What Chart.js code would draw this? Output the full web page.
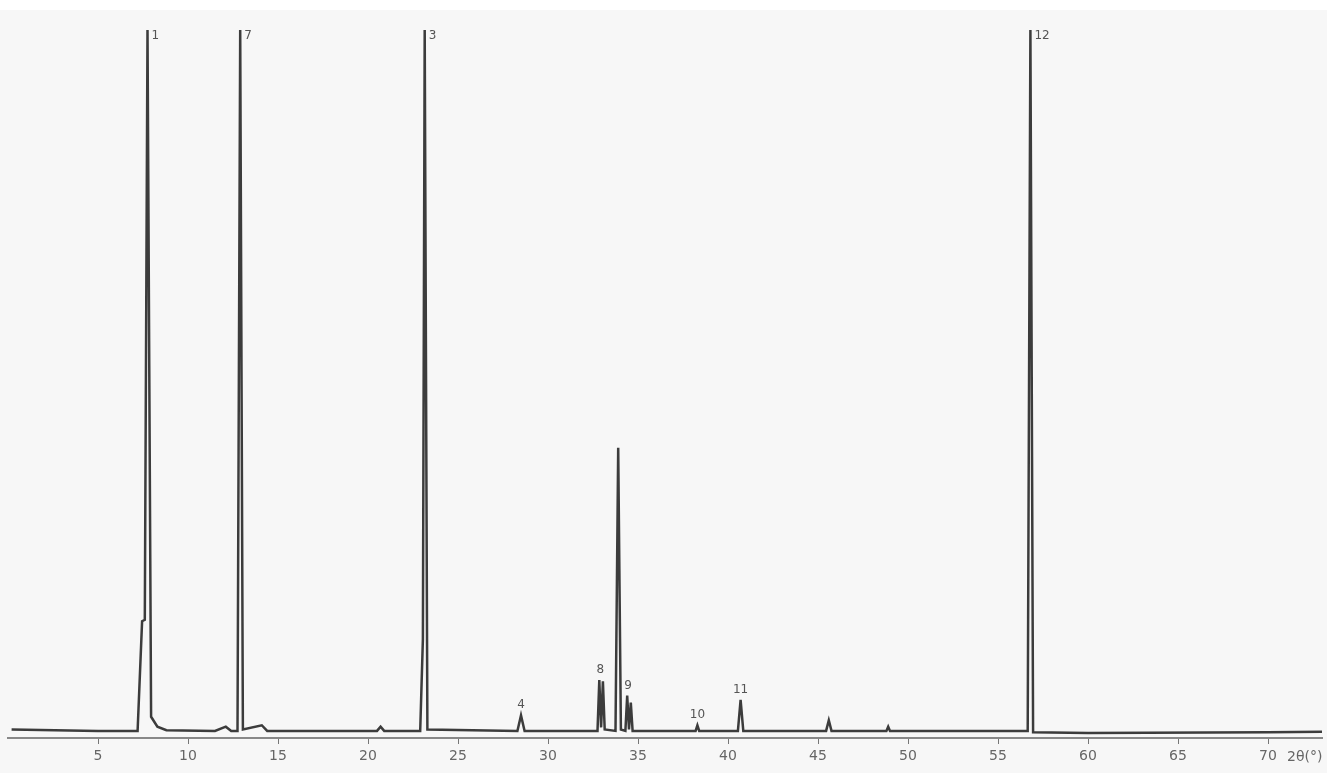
<!DOCTYPE html>
<html>
<head>
<meta charset="utf-8">
<script src="https://cdn.jsdelivr.net/npm/chart.js@4"></script>
<style>
  body { margin: 0; background: #fff; }
  #wrap { width: 1327px; height: 773px; }
</style>
</head>
<body>
<div id="wrap"><canvas id="chart" width="1327" height="773"></canvas></div>
<script>
// diffraction profile, 2θ (deg) vs relative intensity
const twoTheta = [
  0.2, 5.0, 7.2, 7.45, 7.6, 7.75, 7.95, 8.3, 8.8,
  11.5, 12.1, 12.4, 12.75, 12.9, 13.05, 14.1, 14.4,
  20.5, 20.7, 20.9, 22.9, 23.05, 23.15, 23.3,
  28.3, 28.5, 28.7, 32.75, 32.85, 32.95, 33.05, 33.15,
  33.75, 33.9, 34.05, 34.3, 34.4, 34.5, 34.6, 34.7,
  38.2, 38.3, 38.4, 40.55, 40.7, 40.85,
  45.45, 45.6, 45.75, 48.8, 48.9, 49.0,
  56.65, 56.8, 56.95, 60, 70, 73
];
const intensity = [
  1.2, 1.0, 1.0, 16.5, 16.7, 100, 3.0, 1.6, 1.1,
  1.0, 1.6, 1.0, 1.0, 100, 1.2, 1.8, 1.0,
  1.0, 1.6, 1.0, 1.0, 14, 100, 1.2,
  1.0, 3.2, 1.0, 1.0, 8.2, 1.5, 8.0, 1.2,
  1.0, 41, 1.2, 1.0, 6.0, 1.2, 5.0, 1.0,
  1.0, 1.8, 1.0, 1.0, 5.4, 1.0,
  1.0, 2.5, 1.0, 1.0, 1.6, 1.0,
  1.0, 100, 0.8, 0.7, 0.8, 0.9
];
// peak markers
const peakPos = [7.75, 12.9, 23.15, 56.8, 28.5, 32.9, 34.45, 38.3, 40.7];
const peakTop = [100, 100, 100, 100, 3.2, 8.2, 6.0, 1.8, 5.4];
const peakLabels = ["1", "7", "3", "12", "4", "8", "9", "10", "11"];
const xTicks = [5, 10, 15, 20, 25, 30, 35, 40, 45, 50, 55, 60, 65, 70];

const bgPlugin = {
  id: "bg",
  beforeDraw(chart) {
    const { ctx, width, height } = chart;
    ctx.save();
    ctx.fillStyle = "#f7f7f7";
    ctx.fillRect(0, 10, width, height - 10);
    ctx.restore();
  },
};

const labelPlugin = {
  id: "peakLabels",
  afterDatasetsDraw(chart) {
    const { ctx, scales } = chart;
    ctx.save();
    ctx.fillStyle = "#555";
    ctx.font = "12px 'DejaVu Sans'";
    ctx.textBaseline = "bottom";
    peakPos.forEach((p, i) => {
      const x = scales.x.getPixelForValue(p);
      const y = scales.y.getPixelForValue(peakTop[i]);
      if (peakTop[i] >= 100) {
        ctx.textAlign = "left";
        ctx.fillText(peakLabels[i], x + 4, y + 12);
      } else {
        ctx.textAlign = "center";
        ctx.fillText(peakLabels[i], x, y - 4);
      }
    });
    // axis title at the right end
    ctx.font = "14px 'DejaVu Sans'";
    ctx.fillStyle = "#666";
    ctx.textAlign = "left";
    ctx.textBaseline = "middle";
    ctx.fillText("2θ(°)", 1287, 757);
    ctx.restore();
  },
};

new Chart(document.getElementById("chart"), {
  type: "line",
  data: {
    datasets: [{
      data: twoTheta.map((t, i) => ({ x: t, y: intensity[i] })),
      borderColor: "#3c3c3c",
      borderWidth: 2.5,
      pointRadius: 0,
      tension: 0,
      fill: false,
    }],
  },
  options: {
    responsive: false,
    animation: false,
    layout: { padding: { left: 8, right: 5, top: 30, bottom: 0 } },
    plugins: { legend: { display: false }, tooltip: { enabled: false } },
    scales: {
      x: {
        type: "linear",
        min: 0,
        max: 73,
        afterBuildTicks: (s) => { s.ticks = xTicks.map((v) => ({ value: v })); },
        afterFit: (s) => { s.height = 35; },
        grid: { drawOnChartArea: false, tickLength: 6, color: "#777" },
        border: { color: "#888", width: 2 },
        ticks: {
          color: "#666",
          padding: 4,
          maxRotation: 0,
          autoSkip: false,
          font: { family: "DejaVu Sans", size: 14 },
        },
      },
      y: { display: false, min: 0, max: 100 },
    },
  },
  plugins: [bgPlugin, labelPlugin],
});
</script>
</body>
</html>
